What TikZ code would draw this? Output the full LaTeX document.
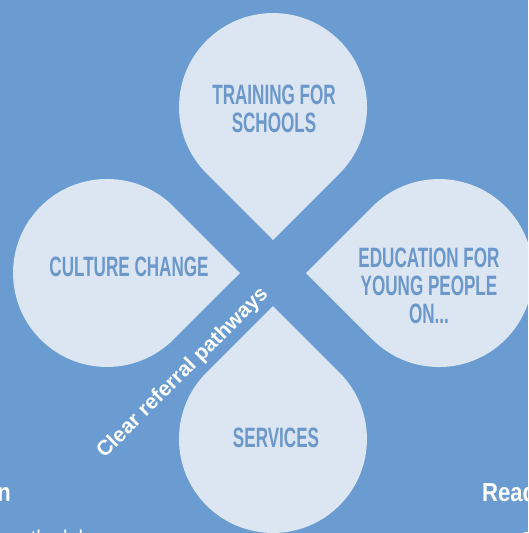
\documentclass[tikz,border=0pt]{standalone}
\usepackage{fontspec}
\setmainfont{Liberation Sans}
\newfontfamily\dropfont[FakeStretch=0.61]{Liberation Sans}
\newfontfamily\narrowfont[FakeStretch=0.85]{Liberation Sans}
\usepackage{tikz}
\usepackage{xcolor}
\definecolor{bgblue}{HTML}{6A9BD1}
\definecolor{dropfill}{HTML}{DCE6F3}
\definecolor{droptext}{HTML}{6B97CB}
\tikzset{
  drop/.pic={\fill [dropfill] (0,0) -- (66.5,66.5) arc [start angle=-45, end angle=225, radius=94pt] -- cycle;},
  droplabel/.style={text=droptext, font=\dropfont\bfseries\fontsize{28}{28}\selectfont, align=center},
  edgetext/.style={text=white}
}

\begin{document}
\begin{tikzpicture}[x=1pt,y=1pt]
\tikzstyle{every node}+=[inner sep=0pt]
\useasboundingbox (0,0) rectangle (528,-533);
\fill [bgblue] (0,0) rectangle (528,-533);
\clip (0,0) rectangle (528,-533);
\pic at (273,-240) {drop};
\pic [rotate=90] at (240,-273) {drop};
\pic [rotate=-90] at (306,-273) {drop};
\pic [rotate=180] at (273,-306) {drop};
\node [droplabel] (training) at (274,-109) {TRAINING FOR\\SCHOOLS};
\node [droplabel] (culture) at (129,-267) {CULTURE CHANGE};
\node [droplabel] (education) at (429,-286) {EDUCATION FOR\\YOUNG PEOPLE\\ON...};
\node [droplabel] (services) at (276,-438) {SERVICES};
\node [edgetext, rotate=45, font=\bfseries\fontsize{21}{21}\selectfont] (pathways) at (183,-373) {Clear referral pathways};
\node [edgetext, anchor=base east, font=\narrowfont\bfseries\fontsize{26}{26}\selectfont] (leftcut) at (11,-501) {n};
\node [edgetext, anchor=base west, font=\narrowfont\bfseries\fontsize{26}{26}\selectfont] (read) at (482,-501) {Read};
\node [edgetext, anchor=base east, font=\fontsize{20}{20}\selectfont] (clubs) at (100,-544) {outh clubs};
\node [edgetext, anchor=base west, font=\fontsize{20}{20}\selectfont] (rightcut) at (519,-546) {C};
\end{tikzpicture}
\end{document}
